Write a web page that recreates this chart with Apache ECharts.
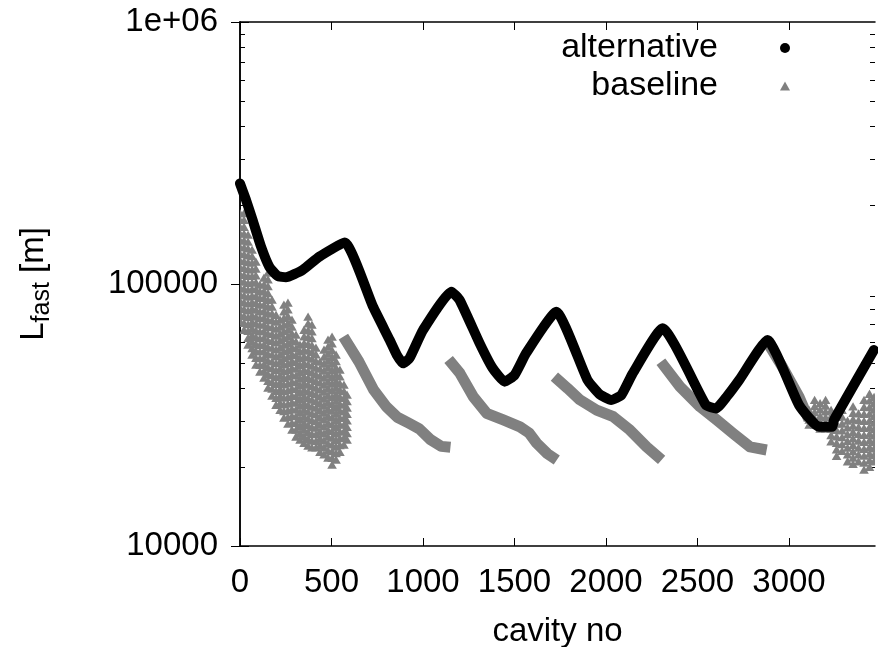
<!DOCTYPE html>
<html>
<head>
<meta charset="utf-8">
<script src="https://cdn.jsdelivr.net/npm/echarts@6/dist/echarts.min.js"></script>
<style>
html,body{margin:0;padding:0;background:#fff;}
#chart{width:878px;height:647px;}
</style>
</head>
<body>
<div id="chart"></div>
<script>
// ---------- data ----------
// alternative: cavity no -> L_fast [m]
const altX = [0, 33, 69, 115, 160, 206, 251, 342, 433, 572, 727, 818, 857, 891, 927, 1000, 1155, 1200, 1309, 1380, 1446, 1500, 1564, 1728, 1899, 1964, 2028, 2084, 2146, 2309, 2546, 2601, 2663, 2728, 2882, 3055, 3164, 3235, 3246, 3464];
const altY = [242000, 209200, 175500, 138800, 116400, 107300, 106100, 113100, 127100, 144000, 81900, 61100, 53600, 49800, 52200, 66700, 93500, 86900, 59500, 47800, 42400, 44900, 54500, 78400, 43000, 38000, 36100, 37700, 45600, 67800, 34500, 33500, 37400, 43000, 61100, 34500, 28500, 28500, 30300, 56000];

// baseline: smooth decaying segments (null = gap between segments)
const baseSegX = [565, 650, 730, 800, 860, 920, 980, 1040, 1100, 1150, null,
                  1140, 1202, 1275, 1348, 1439, 1530, 1580, 1621, 1680, 1731, null,
                  1718, 1790, 1858, 1949, 2040, 2131, 2222, 2304, null,
                  2300, 2404, 2514, 2605, 2695, 2787, 2878, null,
                  2875, 2964, 3055, 3109];
const baseSegY = [63000, 50500, 39500, 34000, 31000, 29500, 28000, 25500, 24000, 23800, null,
                  51500, 45600, 37100, 32100, 30300, 28500, 27000, 24700, 22500, 21300, null,
                  44300, 40000, 36100, 33000, 31150, 27700, 23900, 21300, null,
                  50500, 40600, 34000, 30300, 26900, 23900, 23250, null,
                  61100, 48300, 37100, 30300];

// baseline: noisy columns (cavity no, lowest value, highest value)
const baseNoisyX    = [0, 22, 44, 66, 87, 109, 131, 153, 175, 197, 219, 240, 262, 284, 306, 328, 350, 372, 393, 415, 437, 459, 481, 503, 525, 546, 568, 585,
                       3110, 3140, 3170, 3200, 3230, 3260, 3290, 3320, 3350, 3380, 3410, 3440, 3465];
const baseNoisyLow  = [72000, 66700, 58500, 53600, 49100, 46200, 43800, 40100, 37400, 34500, 33000, 30800, 29200, 27700, 26100, 25400, 24700, 24100, 23700, 23700, 22800, 22300, 21700, 20400, 21300, 22800, 24300, 25400,
                       29000, 29000, 28000, 28000, 25000, 22000, 23000, 21000, 20500, 21000, 19500, 20000, 21000];
const baseNoisyHigh = [186000, 186000, 153800, 134900, 121300, 99200, 105400, 110100, 86900, 76100, 72900, 83200, 84600, 72900, 63900, 58500, 66700, 74800, 69800, 57000, 50400, 56000, 61100, 62800, 53600, 47000, 41200, 37700,
                       33000, 36000, 35000, 36000, 33000, 31000, 33000, 30000, 34000, 32000, 36000, 38000, 37000];

// axes
const xTickValues = [0, 500, 1000, 1500, 2000, 2500, 3000];
const yTickLabels = {10000: '10000', 100000: '100000', 1000000: '1e+06'};
const yMinorTicks = [20000, 30000, 40000, 50000, 60000, 70000, 80000, 90000,
                     200000, 300000, 400000, 500000, 600000, 700000, 800000, 900000];

// ---------- build ----------
const FONT = "'Liberation Sans', Arial, Helvetica, sans-serif";
const GRAY = '#808080';
const altData = altX.map((x, i) => [x, altY[i]]);
const segData = baseSegX.map((x, i) => x === null ? [null, null] : [x, baseSegY[i]]);
const noisyData = baseNoisyX.map((x, i) => [x, baseNoisyLow[i], baseNoisyHigh[i]]);
const minorLog = yMinorTicks.map(v => Math.log10(v));

const XMAX = 3470;
const chart = echarts.init(document.getElementById('chart'), null, {renderer: 'canvas'});

const axisLineStyle = {color: '#000', width: 1.5};
const legendText = {fontSize: 34, color: '#000', fontFamily: FONT, lineHeight: 36, padding: [0, 57, 0, 0]};

const option = {
  animation: false,
  textStyle: {fontFamily: FONT},
  grid: {left: 240, right: 3, top: 22, bottom: 101, containLabel: false, outerBoundsMode: 'none'},
  legend: [
    {
      data: [{name: 'alternative', icon: 'circle'}],
      orient: 'vertical', align: 'right', right: 88, top: 30, padding: 0,
      itemWidth: 10, itemHeight: 10, itemGap: 0,
      textStyle: legendText
    },
    {
      data: [{name: 'baseline', icon: 'triangle'}],
      orient: 'vertical', align: 'right', right: 88, top: 68, padding: 0,
      itemWidth: 10, itemHeight: 9, itemGap: 0,
      textStyle: legendText
    }
  ],
  xAxis: [
    {
      type: 'value', position: 'bottom', min: 0, max: XMAX, interval: 500,
      axisLine: {show: true, lineStyle: axisLineStyle},
      axisTick: {show: true, inside: true, length: 8, customValues: xTickValues, lineStyle: {color: '#000', width: 1}},
      axisLabel: {show: true, fontSize: 33, color: '#000', fontFamily: FONT, margin: 20,
                  customValues: xTickValues, formatter: v => String(v)},
      splitLine: {show: false},
      name: 'cavity no', nameLocation: 'middle', nameGap: 69,
      nameTextStyle: {fontSize: 33, color: '#000', fontFamily: FONT}
    },
    {
      type: 'value', position: 'top', min: 0, max: XMAX, interval: 500,
      axisLine: {show: true, lineStyle: axisLineStyle},
      axisTick: {show: true, inside: true, length: 8, customValues: xTickValues, lineStyle: {color: '#000', width: 1}},
      axisLabel: {show: false},
      splitLine: {show: false}
    }
  ],
  yAxis: [
    {
      type: 'log', logBase: 10, position: 'left', min: 10000, max: 1000000,
      axisLine: {show: true, lineStyle: axisLineStyle},
      axisTick: {show: true, inside: true, length: 9, lineStyle: {color: '#000', width: 1}},
      axisLabel: {show: true, fontSize: 33, color: '#000', fontFamily: FONT, margin: 22,
                  formatter: v => yTickLabels[Math.round(v)] || ''},
      splitLine: {show: false},
      name: '{a|L}{b|fast}{a| [m]}', nameLocation: 'middle', nameGap: 186, nameRotate: 90,
      nameTextStyle: {
        color: '#000', fontFamily: FONT,
        rich: {
          a: {fontSize: 33, lineHeight: 40, color: '#000', fontFamily: FONT},
          b: {fontSize: 25, lineHeight: 24, padding: [16, 0, 0, 0], color: '#000', fontFamily: FONT}
        }
      }
    },
    {
      type: 'log', logBase: 10, position: 'right', min: 10000, max: 1000000,
      axisLine: {show: true, lineStyle: axisLineStyle},
      axisTick: {show: true, inside: true, length: 9, lineStyle: {color: '#000', width: 1}},
      axisLabel: {show: false},
      splitLine: {show: false}
    },
    {
      type: 'value', position: 'left', min: 4, max: 6,
      axisLine: {show: false},
      axisTick: {show: true, inside: true, length: 5, customValues: minorLog, lineStyle: {color: '#000', width: 1}},
      axisLabel: {show: false},
      splitLine: {show: false}
    },
    {
      type: 'value', position: 'right', min: 4, max: 6,
      axisLine: {show: false},
      axisTick: {show: true, inside: true, length: 5, customValues: minorLog, lineStyle: {color: '#000', width: 1}},
      axisLabel: {show: false},
      splitLine: {show: false}
    }
  ],
  series: [
    {
      name: 'baseline', type: 'line', xAxisIndex: 0, yAxisIndex: 0,
      data: segData, connectNulls: false, showSymbol: false, symbol: 'triangle',
      color: GRAY,
      lineStyle: {color: GRAY, width: 11, cap: 'butt', join: 'round'},
      itemStyle: {color: GRAY},
      emphasis: {disabled: true}, silent: true, z: 2
    },
    {
      name: 'baseline', type: 'custom', xAxisIndex: 0, yAxisIndex: 0,
      data: noisyData, encode: {x: 0, y: [1, 2]}, clip: true,
      itemStyle: {color: GRAY}, silent: true, z: 2,
      renderItem: function (params, api) {
        const x = api.value(0), lo = api.value(1), hi = api.value(2);
        const top = api.coord([x, hi]);
        const bot = api.coord([x, lo]);
        const span = bot[1] - top[1];
        const n = Math.max(1, Math.ceil(span / 7));
        const children = [];
        for (let k = 0; k <= n; k++) {
          const cy = top[1] + span * k / n;
          const cx = top[0];
          children.push({
            type: 'polygon',
            shape: {points: [[cx, cy - 4.5], [cx - 4.8, cy + 3.8], [cx + 4.8, cy + 3.8]]},
            style: {fill: GRAY}
          });
        }
        return {type: 'group', children: children};
      }
    },
    {
      name: 'alternative', type: 'line', xAxisIndex: 0, yAxisIndex: 0,
      data: altData, showSymbol: false, symbol: 'circle', smooth: 0.15,
      color: '#000',
      lineStyle: {color: '#000', width: 10, cap: 'round', join: 'round'},
      itemStyle: {color: '#000'},
      emphasis: {disabled: true}, silent: true, z: 3
    }
  ]
};
chart.setOption(option);
</script>
</body>
</html>
